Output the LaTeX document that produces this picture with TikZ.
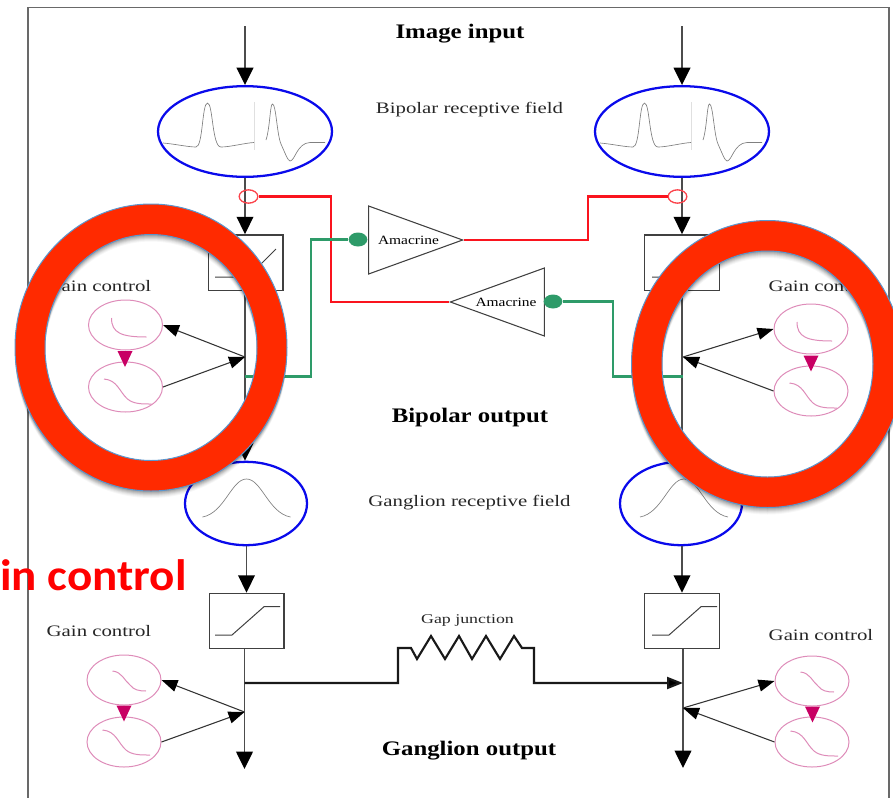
\documentclass[tikz,border=0pt]{standalone}
\usepackage{fontspec}
\setmainfont{Liberation Serif}
\newfontfamily\subfont[FakeStretch=1.30]{Liberation Serif}
\newfontfamily\titlefont[FakeStretch=1.20]{Liberation Serif}
\newfontfamily\tinyfont[FakeStretch=1.34]{Liberation Serif}
\newfontfamily\amafont[FakeStretch=1.22]{Liberation Serif}
\newfontfamily\callout[FakeStretch=1.07]{Carlito}
\usetikzlibrary{arrows.meta,shapes.geometric}
\definecolor{blueell}{RGB}{10,10,235}
\definecolor{pinkell}{RGB}{222,140,185}
\definecolor{pinktri}{RGB}{200,0,100}
\definecolor{greenln}{RGB}{46,155,105}
\definecolor{redln}{RGB}{250,20,30}
\definecolor{ringred}{RGB}{255,42,0}
\definecolor{ringedge}{RGB}{90,150,205}
\definecolor{framegr}{RGB}{105,105,105}
\tikzset{
  bigarrow/.style={draw=black!70,line width=1.1pt,-{Triangle[length=13pt,width=12.5pt,fill=black,color=black]}},
  smallarrow/.style={draw=black!80,line width=0.8pt,-{Triangle[length=12pt,width=9pt,fill=black,color=black]}},
  rfield/.style={ellipse,draw=blueell,line width=1.7pt,inner sep=0pt,minimum width=130.5pt,minimum height=68pt},
  grfield/.style={ellipse,draw=blueell,line width=1.7pt,inner sep=0pt,minimum width=91.5pt,minimum height=62.5pt},
  gainell/.style={ellipse,draw=pinkell,line width=0.75pt,inner sep=0pt,minimum width=55.5pt,minimum height=37.5pt},
  rampbox/.style={rectangle,draw=black!75,line width=1pt,inner sep=0pt,minimum width=56pt,minimum height=41.5pt},
  opencirc/.style={ellipse,draw=redln!80,line width=1pt,fill=none,inner sep=0pt,minimum width=14pt,minimum height=10pt},
  greendot/.style={ellipse,fill=greenln,inner sep=0pt,minimum width=14pt,minimum height=10.5pt},
  amatri/.style={isosceles triangle,isosceles triangle stretches,draw=black!75,line width=0.8pt,inner sep=0pt,minimum width=51pt,minimum height=70.5pt},
  redwire/.style={draw=redln,line width=1.7pt},
  greenwire/.style={draw=greenln,line width=1.7pt},
  gapwire/.style={draw=black!90,line width=1.6pt},
  wave/.style={draw=black!50,line width=0.5pt},
  gaincurve/.style={draw=pinkell,line width=0.75pt},
  ramp/.style={draw=black!75,line width=0.75pt},
  title/.style={font=\titlefont\bfseries\fontsize{15.5}{17}\selectfont,text=black,inner sep=0pt},
  sub/.style={font=\subfont\fontsize{12}{14}\selectfont,text=black!85,inner sep=0pt},
  tiny/.style={font=\tinyfont\fontsize{10}{12}\selectfont,text=black!85,inner sep=0pt},
  amatext/.style={font=\amafont\fontsize{9.5}{11}\selectfont,text=black,inner sep=0pt}
}
\newcommand{\bipwaves}[1]{%
  \begin{scope}[xshift=#1*0.75pt]
    \draw[draw=black!12,line width=0.4pt] (254.5,102) -- (254.5,150);
    \draw[wave] (163,143) .. controls (175,144) and (188,147) .. (196,147)
      .. controls (203,147) and (202,103) .. (207.5,103)
      .. controls (213,103) and (212,147) .. (221,147)
      .. controls (230,147) and (245,143) .. (254,142.5);
    \draw[wave] (266,140) .. controls (270,128) and (270,104) .. (272.5,104)
      .. controls (276,104) and (277,135) .. (281,144)
      .. controls (285,153) and (288,161) .. (290,161)
      .. controls (295,161) and (297,143) .. (310,142.5) -- (325,142.5);
  \end{scope}}
\newcommand{\gausscurve}[1]{%
  \draw[wave] (#1-44,517) .. controls (#1-22,513) and (#1-15,479) .. (#1,479)
     .. controls (#1+15,479) and (#1+22,513) .. (#1+44,517);}
\newcommand{\rampcurve}[2]{%
  \draw[ramp] (#1+215,#2+635) -- (#1+232,#2+635) -- (#1+264,#2+606.7) -- (#1+280,#2+606.7);}
\newcommand{\sigmoid}[2]{%
  \draw[gaincurve] (#1-21.5,#2-12) .. controls (#1-8,#2-11) and (#1-6,#2+1) .. (#1+2,#2+8)
     .. controls (#1+8,#2+13) and (#1+16,#2+13) .. (#1+26,#2+13);}
\newcommand{\sigsmall}[2]{%
  \draw[gaincurve] (#1-11.5,#2-10) .. controls (#1-2,#2-9) and (#1,#2-1) .. (#1+6,#2+4)
     .. controls (#1+10,#2+9) and (#1+15,#2+10) .. (#1+22,#2+10);}
\newcommand{\hookcurve}[2]{%
  \draw[gaincurve] (#1-14,#2-7) .. controls (#1-14,#2+8) and (#1-4,#2+12) .. (#1+21,#2+12);}
\newcommand{\pinktriangle}[2]{%
  \fill[pinktri] (#1-7.5,#2) -- (#1+7.5,#2) -- (#1,#2+16) -- cycle;}
\newcommand{\redring}[3]{%
  \foreach \s/\o in {7/.03,6/.04,5/.05,4/.07,3/.08,2/.09,1/.09}{
    \fill[black,opacity=\o,even odd rule] (#1,#2+\s) ellipse [x radius=136,y radius=143.5]
      (#1,#2+\s) ellipse [x radius=#3,y radius=113];}
  \filldraw[fill=ringred,draw=ringedge,line width=0.75pt,even odd rule]
    (#1,#2) ellipse [x radius=136,y radius=143.5]
    (#1,#2) ellipse [x radius=#3,y radius=113];}
\begin{document}
\begin{tikzpicture}[x=0.75pt,y=-0.75pt]
\useasboundingbox (0,0) rectangle (893,797);
\begin{scope}
\clip (0,0) rectangle (893,797);
% frame
\draw[framegr,line width=1.15pt] (28,800) -- (28,7.5) -- (889,7.5) -- (889,800);

% titles and labels
\node[title] (t1) at (460,34) {Image input};
\node[sub] (t2) at (469.5,110) {Bipolar receptive field};
\node[title] (t3) at (470,418) {Bipolar output};
\node[sub] (t4) at (469.5,502.5) {Ganglion receptive field};
\node[title] (t5) at (469,751) {Ganglion output};
\node[tiny] (t6) at (467.5,620) {Gap junction};
\node[sub] (gl1) at (99,286) {Gain control};
\node[sub] (gr1) at (821,286) {Gain control};
\node[sub] (gl2) at (99,631.5) {Gain control};
\node[sub] (gr2) at (821,635) {Gain control};

% free ends and junctions
\coordinate (inL) at (245,26);
\coordinate (inR) at (682,26);
\coordinate (jL) at (245,357);
\coordinate (jR) at (683,357);
\coordinate (bgL) at (245,376.5);
\coordinate (bgR) at (683,376.5);
\coordinate (jL2) at (244.5,712);
\coordinate (jR2) at (683,708);
\coordinate (gapL) at (244.5,683);
\coordinate (gapR) at (683,683);
\coordinate (outL) at (244.5,769);
\coordinate (outR) at (683,768);

% receptive fields
\node[rfield] (rfL) at (245,131.5) {};
\node[rfield] (rfR) at (682,131.5) {};
\node[grfield] (grL) at (246,503.5) {};
\node[grfield] (grR) at (681,503.5) {};
\bipwaves{0}
\bipwaves{437}
\gausscurve{246.5}
\gausscurve{684}

% ramp boxes
\node[rampbox] (boxL1) at (245.5,262.5) {};
\node[rampbox] (boxR1) at (682,262.5) {};
\node[rampbox] (boxL2) at (246.5,621) {};
\node[rampbox] (boxR2) at (682,621) {};
\draw[ramp] (215,277) -- (248,277) -- (276,249);
\draw[ramp] (652,277) -- (685,277) -- (713,249);
\rampcurve{0}{0}
\rampcurve{437}{0}

% vertical signal paths
\draw[bigarrow] (inL) -- (rfL.north);
\draw[bigarrow] (inR) -- (rfR.north);
\draw[bigarrow] (rfL.south) -- (boxL1.north -| rfL);
\draw[bigarrow] (rfR.south) -- (boxR1.north -| rfR);
\draw[bigarrow] (boxL1.south -| rfL) -- (grL.north -| rfL);
\draw[bigarrow] (boxR1.south -| rfR) -- (grR.north -| rfR);
\draw[bigarrow] (grL.south -| boxL2.north) -- (boxL2.north);
\draw[bigarrow] (grR.south -| boxR2.north) -- (boxR2.north);
\draw[bigarrow] (boxL2.south -| outL) -- (outL);
\draw[bigarrow] (boxR2.south -| outR) -- (outR);

% amacrine cells
\node[amatri,anchor=apex] (ama1) at (464,240) {};
\node[amatext] (ama1t) at (408.5,240) {Amacrine};
\node[amatri,shape border rotate=180,anchor=apex] (ama2) at (449,302) {};
\node[amatext] (ama2t) at (506,302) {Amacrine};
\node[greendot] (gd1) at (358,239.5) {};
\node[greendot] (gd2) at (553,301.5) {};
\node[opencirc] (rc1) at (248.5,196.5) {};
\node[opencirc] (rc2) at (677.5,196.5) {};

% amacrine wiring
\draw[redwire] (rc1.east) -- (331,196.5) -- (331,302) -- (ama2.apex);
\draw[redwire] (ama1.apex) -- (588,240) -- (588,196.5) -- (rc2.west);
\draw[greenwire] (bgL) -- (311,376.5) -- (311,239.5) -- (gd1.west);
\draw[greenwire] (gd2.east) -- (613,301.5) -- (613,376.5) -- (bgR);

% gain control pairs
\node[gainell] (gA1) at (125.5,325) {};
\node[gainell] (gA2) at (125.5,387) {};
\node[gainell] (gB1) at (811,329) {};
\node[gainell] (gB2) at (811,391) {};
\node[gainell] (gC1) at (124,680) {};
\node[gainell] (gC2) at (124,742) {};
\node[gainell] (gD1) at (812,681) {};
\node[gainell] (gD2) at (812,742) {};
\hookcurve{125.5}{325}
\sigmoid{125.5}{391}
\hookcurve{811}{329}
\sigmoid{811}{395}
\sigsmall{124}{681}
\sigmoid{124}{742}
\sigsmall{812}{682}
\sigmoid{812}{743}
\pinktriangle{125}{351}
\pinktriangle{811}{355.5}
\pinktriangle{124}{705.5}
\pinktriangle{812.5}{706.5}

\draw[smallarrow] (jL) -- (gA1.east);
\draw[smallarrow] (gA2.east) -- (jL);
\draw[smallarrow] (jR) -- (gB1.west);
\draw[smallarrow] (gB2.west) -- (jR);
\draw[smallarrow] (jL2) -- (gC1.east);
\draw[smallarrow] (gC2.east) -- (jL2);
\draw[smallarrow] (jR2) -- (gD1.west);
\draw[smallarrow] (gD2.west) -- (jR2);

% gap junction
\draw[gapwire,-{Triangle[length=12pt,width=9pt,fill=black]}] (gapL) -- (398,683) -- (398,648) -- (411,648)
  -- (417,659) -- (431,636) -- (445,659) -- (459,636) -- (472,659) -- (486,636) -- (500,659) -- (514,636)
  -- (522,648) -- (534,648) -- (534,683) -- (gapR);

% callouts
\redring{151}{347.5}{106}
\redring{767.5}{364}{105.5}
\node[font=\callout\bfseries\fontsize{33}{36}\selectfont,text=red,anchor=base east,inner sep=0pt] (cc) at (187,590) {in control};
\end{scope}
\end{tikzpicture}
\end{document}
